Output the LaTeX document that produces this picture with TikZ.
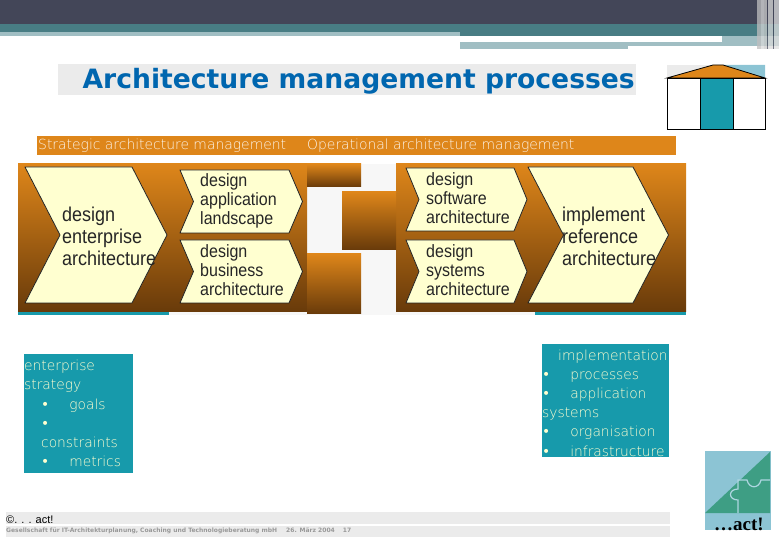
\documentclass[tikz,border=0pt]{standalone}
\usepackage{fontspec}
\setmainfont{DejaVu Sans}
\newfontfamily\thinfont{DejaVu Sans ExtraLight}
\newfontfamily\chevfont[FakeStretch=0.9]{Liberation Sans}
\newfontfamily\footfont{Liberation Sans}
\newfontfamily\logofont{Liberation Serif}
\usetikzlibrary{positioning}
\definecolor{headdark}{RGB}{67,70,88}
\definecolor{headteal}{RGB}{72,125,132}
\definecolor{headlight}{RGB}{160,190,195}
\definecolor{barorange}{RGB}{222,134,26}
\definecolor{panelbrown}{RGB}{104,58,10}
\definecolor{boxteal}{RGB}{23,154,171}
\definecolor{chevyellow}{RGB}{255,255,208}
\definecolor{lightgray}{RGB}{235,235,235}
\definecolor{titleblue}{RGB}{0,102,175}
\definecolor{logoblue}{RGB}{140,196,212}
\definecolor{logogreen}{RGB}{62,158,132}
\newcommand{\tealbullet}{{\normalfont\textbullet}}

\begin{document}
\begin{tikzpicture}[
    x=1pt, y=-1pt,
    panel/.style={top color=barorange, bottom color=panelbrown, draw=none},
    chev/.style={draw=black!85, fill=chevyellow, line width=0.8pt, line join=round},
    chevbig/.style={font=\chevfont\fontsize{20}{22}\selectfont, align=left, anchor=west, inner sep=0pt, text=black!85},
    chevsmall/.style={font=\chevfont\fontsize{17.8}{19.3}\selectfont, align=left, anchor=west, inner sep=0pt, text=black!85},
    tealbox/.style={fill=boxteal, draw=none, inner sep=0pt, anchor=north west},
    tealtext/.style={anchor=north west, inner sep=0pt, text=chevyellow, align=left, font=\thinfont\fontsize{13.8}{19.2}\selectfont},
    barlabel/.style={text=white!90!barorange, font=\thinfont\fontsize{13.9}{15}\selectfont, inner sep=0pt, anchor=west},
    footbar/.style={fill=lightgray, draw=none}
]
    \useasboundingbox (0,0) rectangle (779,537);
    % header
    \fill[headdark] (0,0) rectangle (779,24);
    \fill[headteal] (0,24) rectangle (779,36);
    \fill[headlight] (0,32) rectangle (460,36);
    \fill[white] (460,36) rectangle (722,42);
    \fill[headlight] (460,42) rectangle (722,46);
    \fill[headlight] (460,46) rectangle (628,49);
    \fill[headlight] (722,36) rectangle (779,46);
    \foreach \x/\w/\c in {757/4/gray!50, 761/3/gray!30, 764/3/white!60!gray, 767/1/headdark, 768/5/white!70!gray, 773/1/headdark, 774/5/white!75!gray}
        \fill[\c, opacity=0.75] (\x,0) rectangle (\x+\w,49);
    % title
    \node[fill=lightgray, minimum width=578pt, minimum height=31pt, inner sep=0pt] (titlebar) at (347,79.5) {};
    \node[font=\bfseries\fontsize{26.6}{30}\selectfont, text=titleblue, inner sep=0pt, anchor=east] (title) at (635,81) {Architecture management processes};
    % house
    \fill[lightgray] (667,65) rectangle (765,78);
    \fill[logoblue] (723,65) -- (765,65) -- (765,78) -- cycle;
    \draw[fill=barorange, line width=0.8pt] (667,78) -- (713,65) -- (723,65) -- (765,78) -- cycle;
    \fill[boxteal] (700,78) rectangle (733,129);
    \draw[line width=0.9pt] (667,78) rectangle (765,129) (700,78) -- (700,129) (733,78) -- (733,129);
    % orange bar
    \node[fill=barorange, minimum width=639pt, minimum height=19pt, inner sep=0pt] (orangebar) at (356.5,145.5) {};
    \node[barlabel] (stratlabel) at (38,145.5) {Strategic architecture management};
    \node[barlabel] (oplabel) at (307,145.5) {Operational architecture management};
    % panels
    \fill[white!94!gray] (18,312) rectangle (686,315);
    \fill[white!94!gray] (307,164) rectangle (396,314);
    \shade[panel] (18,164) rectangle (307,312);
    \shade[panel] (396,164) rectangle (686,312);
    \shade[panel] (307,164) rectangle (361,187);
    \shade[panel] (342,192) rectangle (396,250);
    \shade[panel] (307,254) rectangle (361,314);
    \fill[boxteal] (18,312) rectangle (169,315);
    \fill[boxteal] (535,312) rectangle (686,315);
    % chevrons
    \foreach \xa/\xb/\tipw/\ya/\yb/\tx/\ty/\sty/\lbl/\txt in {
        25/132/35/167/303/62/236/chevbig/enterprise/{design\\enterprise\\architecture},
        180/289/13.5/170/233/200/201/chevsmall/landscape/{design\\application\\landscape},
        180/289/13.5/240/303/200/270/chevsmall/business/{design\\business\\architecture},
        406/514/13/168/231/426/198/chevsmall/software/{design\\software\\architecture},
        406/514/13/240/303/426/270/chevsmall/systems/{design\\systems\\architecture},
        528/633/35.5/167/303/562/236/chevbig/reference/{implement\\reference\\architecture}} {
        \draw[chev] (\xa,\ya) -- (\xb,\ya) -- (\xb+\tipw,{(\ya+\yb)/2}) -- (\xb,\yb) -- (\xa,\yb)
            -- (\xa+\tipw,{(\ya+\yb)/2}) -- cycle;
        \node[\sty] (\lbl) at (\tx,\ty) {\txt};
    }
    % teal boxes
    \node[tealbox, minimum width=109pt, minimum height=119pt] (strategybox) at (24,354) {};
    \node[tealtext] (strategytext) at (24,360)
        {enterprise\\strategy\\\hspace*{17pt}\tealbullet\hspace{20pt}goals\\\hspace*{17pt}\tealbullet\\\hspace*{17pt}constraints\\\hspace*{17pt}\tealbullet\hspace{20pt}metrics};
    \node[tealbox, minimum width=127pt, minimum height=113pt] (implbox) at (542,344) {};
    \node[tealtext] (impltext) at (542,349.5)
        {\hspace*{16pt}implementation\\\tealbullet\hspace{20pt}processes\\\tealbullet\hspace{20pt}application\\systems\\\tealbullet\hspace{20pt}organisation\\\tealbullet\hspace{20pt}infrastructure};
    % footer
    \fill[footbar] (6,512) rectangle (670,524);
    \fill[footbar] (6,526) rectangle (670,537);
    \node[anchor=west, inner sep=0pt, font=\footfont\fontsize{11}{12}\selectfont] (copyright) at (6,520) {©. . . act!};
    \node[anchor=west, inner sep=0pt, text=gray!80, font=\bfseries\fontsize{6}{7}\selectfont] (company) at (6,531) {Gesellschaft für IT-Architekturplanung, Coaching und Technologieberatung mbH\hspace{9pt}26. März 2004\hspace{8pt}17};
    % logo
    \fill[logoblue] (705,451) rectangle (771,530);
    \fill[logogreen] (705,513) -- (770,452) -- (770,513) -- cycle;
    \draw[logoblue!70!white, line width=1.2pt] (738,513) -- (738,500) .. controls (728,500) and (728,489) .. (738,489)
        -- (738,480) -- (747,480) .. controls (749,489) and (759,489) .. (761,480) -- (770,480);
    \node[inner sep=0pt, font=\logofont\bfseries\fontsize{19}{20}\selectfont] (logotext) at (739,524) {\ldots act!};
\end{tikzpicture}
\end{document}
